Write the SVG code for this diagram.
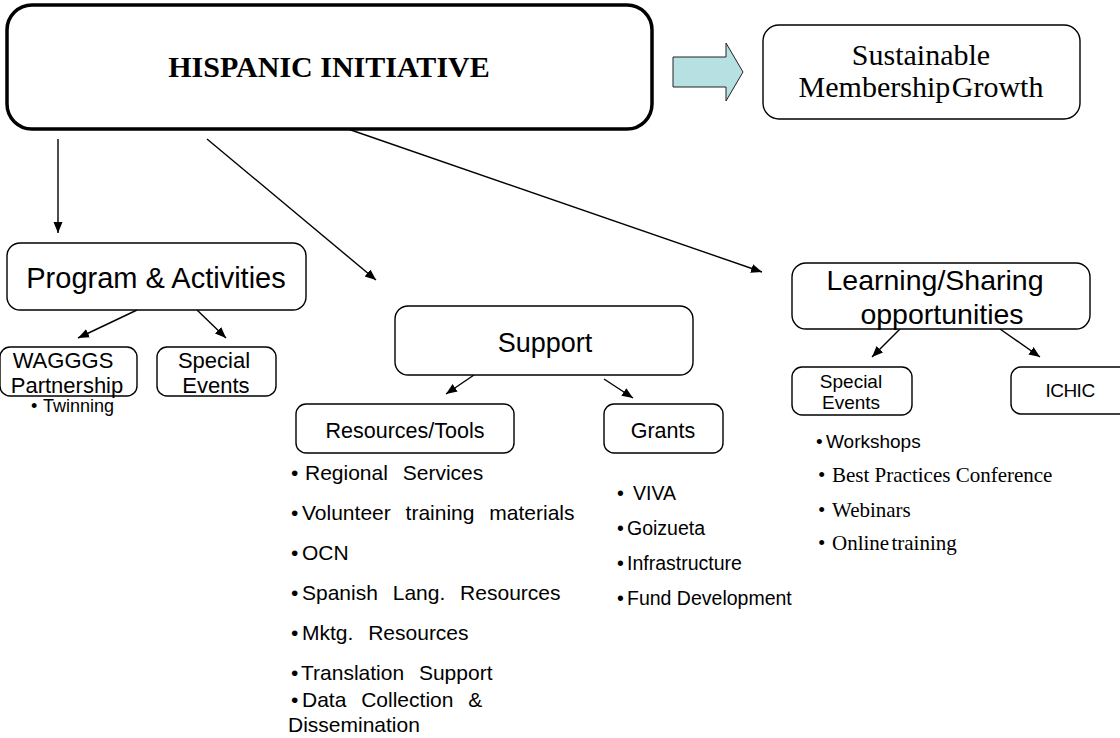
<svg xmlns="http://www.w3.org/2000/svg" width="1120" height="738" viewBox="0 0 1120 738">
<style>
.box{fill:#fff;stroke:#000;stroke-width:1.4}
.main{fill:#fff;stroke:#000;stroke-width:3.5}
.conn{stroke:#000;stroke-width:1.4;fill:none}
.sans{font-family:"Liberation Sans",Arial,sans-serif;fill:#000}
.serif{font-family:"Liberation Serif","Times New Roman",serif;fill:#000}
.c{text-anchor:middle}
</style>
<defs>
<marker id="ah" markerUnits="userSpaceOnUse" markerWidth="12" markerHeight="10" refX="11" refY="4.5" orient="auto">
<path d="M0,0 L11,4.5 L0,9 z" fill="#000"/>
</marker>
</defs>
<rect width="1120" height="738" fill="#fff"/>

<g id="connectors">
<line class="conn" x1="58" y1="139" x2="58" y2="233" marker-end="url(#ah)"/>
<line class="conn" x1="207" y1="139" x2="376" y2="280" marker-end="url(#ah)"/>
<line class="conn" x1="348" y1="129" x2="762" y2="272" marker-end="url(#ah)"/>
<line class="conn" x1="137" y1="310" x2="78" y2="338" marker-end="url(#ah)"/>
<line class="conn" x1="197" y1="310" x2="226" y2="338" marker-end="url(#ah)"/>
<line class="conn" x1="474" y1="375" x2="446" y2="394" marker-end="url(#ah)"/>
<line class="conn" x1="604" y1="379" x2="633" y2="398" marker-end="url(#ah)"/>
<line class="conn" x1="900" y1="329" x2="872" y2="357" marker-end="url(#ah)"/>
<line class="conn" x1="1000" y1="329" x2="1040" y2="357" marker-end="url(#ah)"/>
<polygon id="block-arrow" points="673,57 726,57 726,43 743,72 726,101 726,87 673,87" fill="#B7E0E3" stroke="#222" stroke-width="1"/>
</g>

<g id="hispanic-initiative">
<rect class="main" x="7" y="5" width="645" height="124" rx="25"/>
<text class="serif c" x="329" y="77" font-size="30" font-weight="bold">HISPANIC INITIATIVE</text>
</g>

<g id="sustainable-growth">
<rect class="box" x="763" y="25" width="317" height="94" rx="16"/>
<text class="serif c" x="921" y="65" font-size="30">Sustainable</text>
<text class="serif c" x="921" y="97" font-size="30" word-spacing="-6">Membership Growth</text>
</g>

<g id="program-activities">
<rect class="box" x="7" y="243" width="299" height="67" rx="13"/>
<text class="sans c" x="156" y="288" font-size="29">Program &amp; Activities</text>
</g>

<g id="wagggs">
<rect class="box" x="0" y="347" width="137" height="49" rx="10"/>
<text class="sans c" x="63" y="368" font-size="22">WAGGGS</text>
<text class="sans c" x="67" y="393" font-size="22">Partnership</text>
<text class="sans" x="31" y="412" font-size="18">•<tspan x="43">Twinning</tspan></text>
</g>

<g id="special-events-left">
<rect class="box" x="157" y="347" width="119" height="49" rx="10"/>
<text class="sans c" x="214" y="368" font-size="22">Special</text>
<text class="sans c" x="216" y="393" font-size="22">Events</text>
</g>

<g id="support">
<rect class="box" x="395" y="306" width="298" height="69" rx="13"/>
<text class="sans c" x="545" y="352" font-size="27">Support</text>
</g>

<g id="resources-tools">
<rect class="box" x="296" y="404" width="218" height="49" rx="10"/>
<text class="sans c" x="405" y="438" font-size="21.5">Resources/Tools</text>
<g font-size="21" class="sans" word-spacing="9">
<text x="291" y="480">•<tspan x="305">Regional Services</tspan></text>
<text x="291" y="520">•<tspan x="302">Volunteer training materials</tspan></text>
<text x="291" y="560">•<tspan x="302">OCN</tspan></text>
<text x="291" y="600">•<tspan x="302">Spanish Lang. Resources</tspan></text>
<text x="291" y="640">•<tspan x="302">Mktg. Resources</tspan></text>
<text x="291" y="680">•<tspan x="301">Translation Support</tspan></text>
<text x="291" y="707">•<tspan x="302">Data Collection &amp;</tspan></text>
<text x="288" y="732">Dissemination</text>
</g>
</g>

<g id="grants">
<rect class="box" x="604" y="404" width="119" height="49" rx="10"/>
<text class="sans c" x="663" y="438" font-size="21.5">Grants</text>
<g font-size="19.5" class="sans">
<text x="617" y="500">•<tspan x="633">VIVA</tspan></text>
<text x="617" y="535">•<tspan x="627">Goizueta</tspan></text>
<text x="617" y="570">•<tspan x="627">Infrastructure</tspan></text>
<text x="617" y="605">•<tspan x="627">Fund Development</tspan></text>
</g>
</g>

<g id="learning-sharing">
<rect class="box" x="792" y="263" width="298" height="66" rx="14"/>
<text class="sans c" x="935" y="290" font-size="28.5">Learning/Sharing</text>
<text class="sans c" x="942" y="324" font-size="28.5">opportunities</text>
</g>

<g id="special-events-right">
<rect class="box" x="792" y="367" width="120" height="48" rx="10"/>
<text class="sans c" x="851" y="388" font-size="19">Special</text>
<text class="sans c" x="851" y="409" font-size="19">Events</text>
<text class="sans" x="816" y="448" font-size="19">•<tspan x="826">Workshops</tspan></text>
<g class="serif" font-size="21">
<text x="818" y="482">•<tspan x="832">Best Practices Conference</tspan></text>
<text x="818" y="517">•<tspan x="832">Webinars</tspan></text>
<text x="818" y="550">•<tspan x="832" word-spacing="-3">Online training</tspan></text>
</g>
</g>

<g id="ichic">
<rect class="box" x="1011" y="367" width="130" height="47" rx="10"/>
<text class="sans c" x="1070" y="397" font-size="19" letter-spacing="-0.5">ICHIC</text>
</g>
</svg>
